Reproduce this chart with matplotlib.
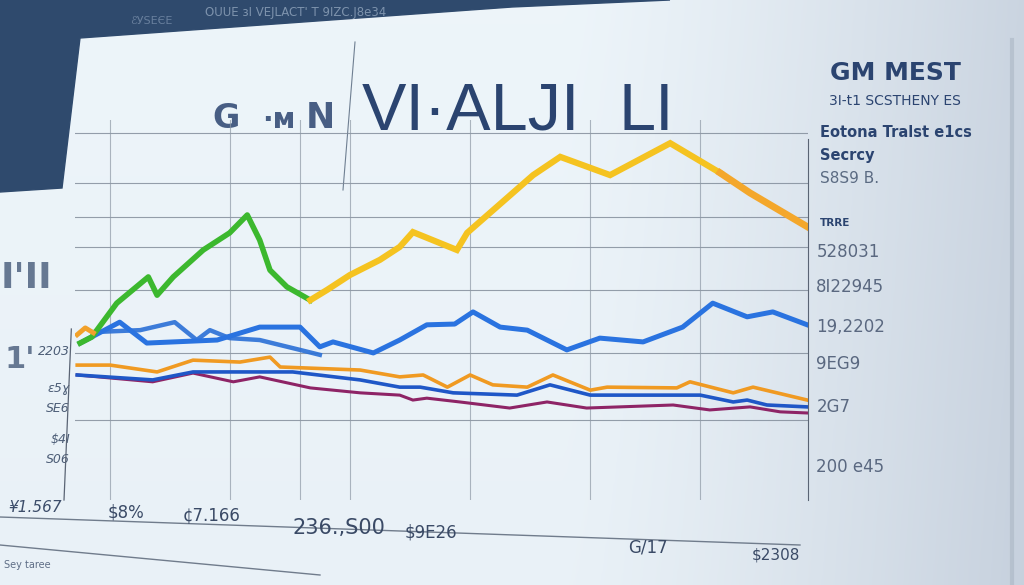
import numpy as np
import matplotlib.pyplot as plt
from matplotlib.patches import Polygon

# ---- data ----
green_x = [0.7, 2.3, 5.7, 10.0, 11.2, 13.4, 17.5, 21.1, 23.5, 25.2, 26.6, 28.9, 32.1]
green_y = [41.3, 42.9, 51.8, 58.7, 53.9, 58.7, 65.8, 70.3, 75.0, 68.4, 60.5, 56.1, 52.6]

yellow_x = [32.1, 34.4, 37.5, 41.6, 44.3, 46.1, 52.1, 53.5, 62.5, 66.2, 73.0, 81.2, 88.0, 92.1, 100.0]
yellow_y = [52.6, 55.3, 59.2, 63.2, 66.6, 70.5, 65.8, 70.3, 85.5, 90.3, 85.5, 93.9, 86.1, 80.8, 71.8]

blue_x = [0.7, 6.1, 9.8, 19.4, 25.2, 30.7, 33.4, 35.2, 40.7, 44.3, 48.0, 51.8, 54.3, 58.0,
          61.7, 67.1, 71.6, 77.5, 82.9, 87.0, 91.7, 95.2, 99.9]
blue_y = [41.3, 46.8, 41.3, 42.1, 45.5, 45.5, 40.3, 41.6, 38.7, 42.1, 46.1, 46.3, 49.5, 45.5,
          44.7, 39.5, 42.6, 41.6, 45.5, 51.8, 48.2, 49.5, 46.1]

blue2_x = [2.7, 8.9, 13.6, 16.6, 18.4, 21.1, 25.2, 30.7, 33.4]
blue2_y = [44.2, 44.7, 46.8, 42.1, 44.7, 42.6, 42.1, 39.5, 38.2]

orange_x = [0.3, 4.8, 11.2, 16.1, 22.5, 26.6, 28.0, 38.9, 44.3, 47.5, 50.8, 53.9, 57.0, 61.7,
            65.2, 70.3, 72.6, 82.1, 83.9, 89.8, 92.5, 99.9]
orange_y = [35.5, 35.5, 33.7, 36.8, 36.3, 37.6, 35.0, 34.2, 32.4, 32.9, 29.7, 32.9, 30.3, 29.7,
            32.9, 28.9, 29.7, 29.5, 31.1, 28.2, 29.7, 26.3]

navy_x = [0.3, 10.6, 16.1, 29.7, 38.9, 44.3, 47.1, 51.6, 60.3, 64.8, 70.3, 77.5, 85.3, 89.8,
          91.7, 94.4, 99.9]
navy_y = [32.9, 31.6, 33.7, 33.7, 31.6, 29.7, 29.7, 28.2, 27.6, 30.3, 27.6, 27.6, 27.6, 25.8,
          26.3, 25.0, 24.5]

purple_x = [0.3, 10.6, 16.1, 21.6, 25.2, 32.1, 38.9, 44.3, 46.1, 48.0, 52.5, 59.3, 64.4, 69.8,
            81.6, 86.6, 92.1, 96.2, 99.9]
purple_y = [32.9, 31.1, 33.4, 31.1, 32.4, 29.5, 28.2, 27.6, 26.3, 26.8, 25.8, 24.2, 25.8, 24.2,
            25.0, 23.7, 24.5, 23.2, 22.9]

tip_x = [0.3, 1.4, 2.5]
tip_y = [43.5, 45.3, 44.0]

right_ticks = [65.8, 56.6, 46.1, 36.3, 25.0, 9.2]
right_labels = ['528031', '8I22945', '19,2202', '9EG9', '2G7', '200 e45']

hgrid = [96.6, 83.4, 74.5, 66.6, 55.3, 38.7, 21.1]
vgrid = [4.8, 21.1, 30.7, 37.5, 53.9, 70.3, 85.3]

fig = plt.figure(figsize=(10.24, 5.85), dpi=100)

# background: pale blue screen, greyer to the right
bg = fig.add_axes([0, 0, 1, 1])
gx = np.linspace(0, 1, 256)
gy = np.linspace(0, 1, 256)
GX, GY = np.meshgrid(gx, gy)
light = np.array([0.93, 0.96, 0.98])
dark = np.array([0.78, 0.82, 0.87])
w = np.clip((GX - 0.55) / 0.45, 0, 1) ** 1.3 * 0.9 + GY * 0.1
img = light[None, None, :] * (1 - w[..., None]) + dark[None, None, :] * w[..., None]
bg.imshow(img, extent=[0, 1024, 585, 0], aspect='auto')
bg.set_xlim(0, 1024)
bg.set_ylim(585, 0)
bg.axis('off')

# dark navy bezel in the top-left corner
bg.add_patch(Polygon([(0, 0), (670, 0), (512, 7), (80, 38), (62, 188), (0, 192)],
                     closed=True, color='#2f4a6d', zorder=2))
bg.text(130, 24, 'ℰУЅЕЄЕ', color='#8fa3bd', fontsize=8, alpha=0.6, zorder=3)
bg.text(205, 16, 'OUUE ɜI VEJLACT\' T 9IZC.J8e34', color='#9fb2c8', fontsize=8.5, alpha=0.7, zorder=3)
bg.plot([1012, 1012], [40, 585], color='#aab6c4', lw=3, alpha=0.6)

# title (garbled, as in the picture)
bg.text(212, 128, 'G', color='#2b4470', fontsize=24, fontweight='bold', alpha=0.85)
bg.text(262, 128, '·ᴍ', color='#2b4470', fontsize=20, fontweight='bold', alpha=0.85)
bg.text(306, 128, 'N', color='#2b4470', fontsize=25, fontweight='bold', alpha=0.85)
bg.text(362, 130, 'VI·ALJI', color='#2b4470', fontsize=48, family='Liberation Sans')
bg.text(618, 130, 'LI', color='#2b4470', fontsize=48, family='Liberation Sans')
bg.plot([355, 343], [42, 190], color='#6f7f92', lw=0.8)

# left side fragments
bg.text(1, 288, 'I\'II', color='#3a4f70', fontsize=26, fontweight='bold', alpha=0.75)
bg.text(4, 368, '1\'', color='#3a4f70', fontsize=22, fontweight='bold', alpha=0.75)
for ty, tl in [(355, '2203'), (392, 'ɛ5ɣ'), (412, 'SE6'), (443, '$4I'), (463, 'S06')]:
    bg.text(70, ty, tl, color='#4c5d76', fontsize=9, ha='right', style='italic')
bg.text(8, 512, '¥1.567', color='#3c4d6a', fontsize=11, style='italic')
bg.text(4, 568, 'Sey taree', color='#3c4d6a', fontsize=7, alpha=0.8)
bg.plot([0, 800], [517, 545], color='#707c8c', lw=1)
bg.plot([0, 320], [545, 575], color='#707c8c', lw=1)

# right side legend-like text
bg.text(895, 80, 'GM MEST', color='#2b4470', fontsize=18, fontweight='bold', ha='center')
bg.text(895, 105, '3I-t1 SCSTHENY ES', color='#2b4470', fontsize=10, ha='center')
bg.text(820, 137, 'Eotona Tralst e1cs', color='#2b4470', fontsize=10.5, fontweight='bold')
bg.text(820, 160, 'Secrcy', color='#2b4470', fontsize=10.5, fontweight='bold')
bg.text(820, 183, 'S8S9 B.', color='#5b6b82', fontsize=11)
bg.text(820, 226, 'TRRE', color='#2b4470', fontsize=7.5, fontweight='bold')

# bottom labels
for tx, ty, tl, fs in [(108, 517, '$8%', 12), (183, 520, '¢7.166', 12), (292, 534, '236.,S00', 15),
                       (405, 538, '$9E26', 12), (628, 552, 'G/17', 12), (752, 560, '$2308', 11)]:
    bg.text(tx, ty, tl, color='#3a4a66', fontsize=fs)

# ---- chart ----
ax = fig.add_axes([75 / 1024, 1 - 500 / 585, 733 / 1024, 380 / 585])
ax.set_facecolor('none')
ax.set_xlim(0, 100)
ax.set_ylim(0, 100)

for v in hgrid:
    ax.axhline(v, color='#7d8896', lw=0.8, alpha=0.8)
for v in vgrid:
    ax.axvline(v, color='#8e99a6', lw=0.8, alpha=0.7)

ax.plot(purple_x, purple_y, color='#8e2466', lw=2.2, solid_joinstyle='miter')
ax.plot(navy_x, navy_y, color='#1f57c7', lw=2.6)
ax.plot(orange_x, orange_y, color='#f09a22', lw=2.6)
ax.plot(blue2_x, blue2_y, color='#2a6fd6', lw=3.2, alpha=0.9)
ax.plot(blue_x, blue_y, color='#2a73e0', lw=3.6)
ax.plot(green_x, green_y, color='#3cb82e', lw=4)
ax.plot(tip_x, tip_y, color='#f2a12a', lw=3.5)
ax.plot(yellow_x[:13], yellow_y[:13], color='#f5c320', lw=4.5, solid_joinstyle='miter')
ax.plot(yellow_x[12:], yellow_y[12:], color='#f4a72b', lw=5, solid_joinstyle='miter')

ax.yaxis.tick_right()
ax.set_yticks(right_ticks)
ax.set_yticklabels(right_labels, color='#5a6880', fontsize=12)
ax.tick_params(axis='y', length=0, pad=6)
ax.set_xticks([])
for side in ['top', 'left', 'bottom']:
    ax.spines[side].set_visible(False)
ax.spines['right'].set_color('#5a6474')
ax.spines['right'].set_bounds(0, 95)
ax.plot([-0.5, -1.5], [45, 0], color='#5a6474', lw=0.9, clip_on=False)

fig.savefig('out.png', dpi=100)
